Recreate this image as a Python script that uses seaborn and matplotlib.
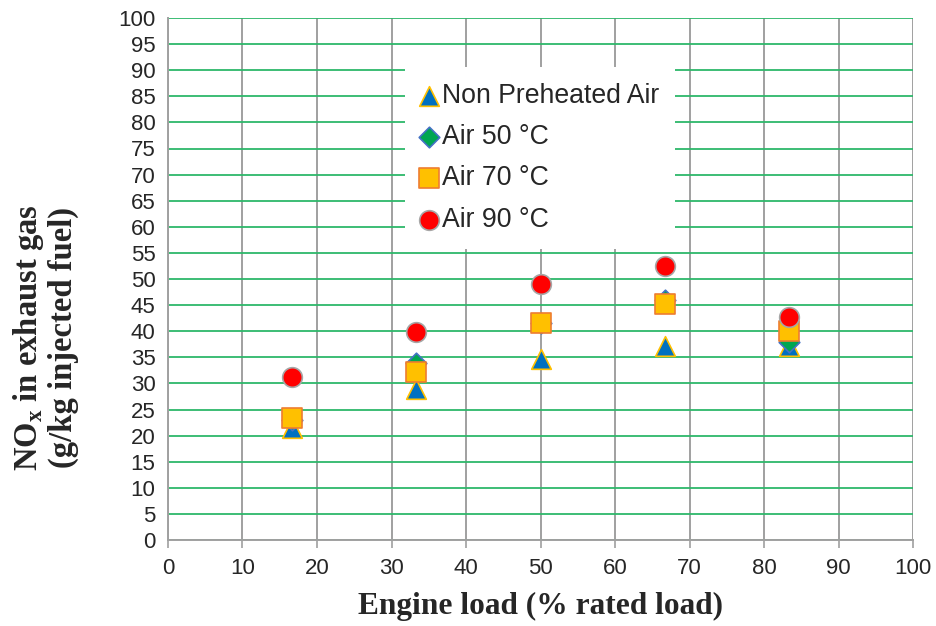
import matplotlib
matplotlib.use("Agg")
import matplotlib.pyplot as plt
import seaborn as sns
import pandas as pd

load = [16.7, 33.3, 50.0, 66.7, 83.3]
non_preheated = [21.5, 29.0, 34.6, 37.2, 37.2]
air_50 = [23.0, 34.0, 41.5, 46.0, 38.0]
air_70 = [23.4, 32.2, 41.5, 45.3, 40.1]
air_90 = [31.3, 39.9, 49.0, 52.4, 42.8]
labels = ["Non Preheated Air", "Air 50 \u00b0C", "Air 70 \u00b0C", "Air 90 \u00b0C"]
yticks = list(range(0, 101, 5))
xticks = list(range(0, 101, 10))

sns.set_theme(style="white")
plt.rcParams['font.family'] = ['Liberation Sans', 'DejaVu Sans']

fig = plt.figure(figsize=(9.37, 6.26), dpi=100)
ax = fig.add_axes([168/937, 1-540/626, 745/937, 522/626])

series = [
    (non_preheated, labels[0], "^", "#0070C0", "#FFC000", 200),
    (air_50, labels[1], "D", "#00A651", "#4472C4", 110),
    (air_70, labels[2], "s", "#FFC000", "#ED7D31", 210),
    (air_90, labels[3], "o", "#FF0000", "#A6A6A6", 200),
]
for vals, lab, mk, fc, ec, s in series:
    df = pd.DataFrame({"load": load, "nox": vals})
    sns.scatterplot(data=df, x="load", y="nox", marker=mk, color=fc,
                    edgecolor=ec, linewidth=1.2, s=s, label=lab, ax=ax, zorder=3)

ax.set_xlim(0, 100)
ax.set_ylim(0, 100)
ax.set_xticks(xticks)
ax.set_yticks(yticks)
ax.yaxis.grid(True, color="#2DB86A", linewidth=1.3)
ax.xaxis.grid(True, color="#A0A0A0", linewidth=1.4)
ax.set_axisbelow(True)
for side in ["top", "right"]:
    ax.spines[side].set_visible(False)
for side in ["left", "bottom"]:
    ax.spines[side].set_color("#A0A0A0")
    ax.spines[side].set_linewidth(1.4)
ax.tick_params(axis="x", length=6, color="#A0A0A0", width=1.2, labelsize=16, pad=7, direction="out", bottom=True)
ax.tick_params(axis="y", length=0, labelsize=16, pad=9)

ax.set_xlabel("Engine load (% rated load)", family="Liberation Serif", fontweight="bold", fontsize=22.6, labelpad=9)
ax.set_ylabel("")
fig.text(45/937, 1-338/626, "NO$_\\mathregular{x}$ in exhaust gas\n(g/kg injected fuel)", family="Liberation Serif",
         fontweight="bold", fontsize=23.5, rotation=90, ha="center", va="center", linespacing=1.05)

leg = ax.legend(loc="upper left", bbox_to_anchor=(0.318, 0.906), frameon=True, fancybox=False,
                facecolor="white", edgecolor="none", framealpha=1, fontsize=19.2,
                handlelength=0.6, handletextpad=0.2, labelspacing=0.57, borderpad=0.6,
                borderaxespad=0)

fig.savefig("out.png", dpi=100)
